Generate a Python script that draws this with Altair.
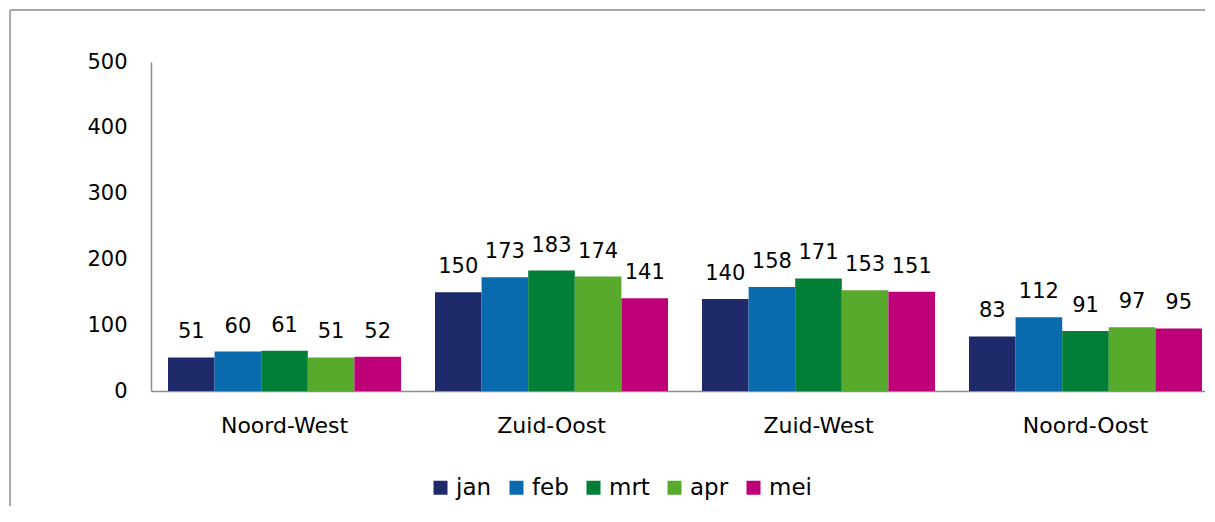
import altair as alt
import pandas as pd

regions = ["Noord-West", "Zuid-Oost", "Zuid-West", "Noord-Oost"]
months = ["jan", "feb", "mrt", "apr", "mei"]
jan = [51, 150, 140, 83]
feb = [60, 173, 158, 112]
mrt = [61, 183, 171, 91]
apr = [51, 174, 153, 97]
mei = [52, 141, 151, 95]
colors = ["#1F2A6B", "#0A6AAE", "#027F36", "#57AA2C", "#BE0078"]

series = {"jan": jan, "feb": feb, "mrt": mrt, "apr": apr, "mei": mei}
rows = []
for m in months:
    for r, v in zip(regions, series[m]):
        rows.append({"regio": r, "maand": m, "waarde": v})
df = pd.DataFrame(rows)

FONT = "DejaVu Sans"
W, H = 1054, 329
PL, PT, PR, PB = 143, 54, 0, 115

x = alt.X("regio:N", sort=regions, title=None,
          scale=alt.Scale(paddingInner=0.1273, paddingOuter=0.03745, align=0.85),
          axis=alt.Axis(labelAngle=0, ticks=False, labelPadding=24, domainColor="#8c8c8c",
                        domainWidth=1.5, labelFontSize=22, labelFont=FONT, labelColor="#000"))
xo = alt.XOffset("maand:N", sort=months, scale=alt.Scale(paddingInner=0, paddingOuter=0))
y = alt.Y("waarde:Q", title=None,
          scale=alt.Scale(domain=[0, 500]),
          axis=alt.Axis(values=[0, 100, 200, 300, 400, 500], ticks=False, grid=False,
                        labelPadding=24, domainColor="#8c8c8c", domainWidth=1.5,
                        labelFontSize=21, labelFont=FONT, labelColor="#000"))
color = alt.Color("maand:N", sort=months, title=None,
                  scale=alt.Scale(domain=months, range=colors),
                  legend=alt.Legend(orient="none", direction="horizontal", columns=5,
                                    legendX=278, legendY=414, symbolType="square",
                                    symbolSize=196, symbolStrokeWidth=0, labelFontSize=23,
                                    labelFont=FONT, labelColor="#000", labelOffset=4,
                                    columnPadding=13))

base = alt.Chart(df)
bars = base.mark_bar().encode(x=x, xOffset=xo, y=y, color=color)
labels = base.mark_text(baseline="bottom", dy=-15, fontSize=21, font=FONT, color="#000").encode(
    x=x, xOffset=xo, y=y, text="waarde:Q")
frame_df = pd.DataFrame({"a": [0]})
top_rule = alt.Chart(frame_df).mark_rule(color="#8c8c8c", strokeWidth=1.5, clip=False).encode(
    x=alt.value(-141), x2=alt.value(W + PR), y=alt.value(-52))
left_rule = alt.Chart(frame_df).mark_rule(color="#8c8c8c", strokeWidth=1.5, clip=False).encode(
    x=alt.value(-141), y=alt.value(-52), y2=alt.value(H + PB))

chart = alt.layer(top_rule, left_rule, bars, labels).properties(
    width=W, height=H,
    autosize=alt.AutoSizeParams(type="none"),
    padding={"left": PL, "top": PT, "right": PR, "bottom": PB},
).configure_view(stroke=None)

chart.save("out.html", embed_options={"renderer": "svg", "actions": False})
